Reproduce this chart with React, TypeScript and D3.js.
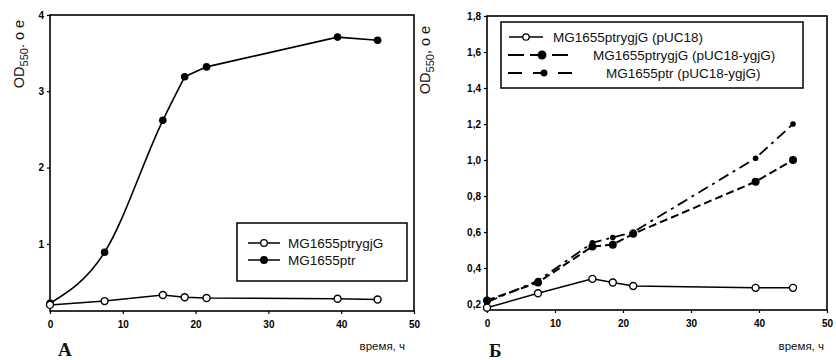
import React, { useEffect, useRef } from 'react';
import * as d3 from 'd3';

// время, ч
const timeA = [0, 7.5, 15.5, 18.5, 21.5, 39.5, 45];
const ptrygjG = [0.2, 0.25, 0.33, 0.3, 0.29, 0.28, 0.27];
const ptr = [0.22, 0.89, 2.62, 3.19, 3.32, 3.71, 3.67];

const timeB = [0, 7.5, 15.5, 18.5, 21.5, 39.5, 45];
const ptrygjG_pUC18 = [0.18, 0.26, 0.34, 0.32, 0.3, 0.29, 0.29];
const ptrygjG_ygjG = [0.22, 0.32, 0.52, 0.53, 0.59, 0.88, 1.0];
const ptr_ygjG = [0.21, 0.33, 0.54, 0.57, 0.6, 1.01, 1.2];

const xTicks = [0, 10, 20, 30, 40, 50];
const yTicksA = [1, 2, 3, 4];
const yTicksB = [0.2, 0.4, 0.6, 0.8, 1.0, 1.2, 1.4, 1.6, 1.8];

const SANS = 'Liberation Sans, Arial, sans-serif';
const SERIF = 'Liberation Serif, Times New Roman, serif';

type Box = { x0: number; x1: number; y0: number; y1: number };

const drawFrame = (
  g: d3.Selection<SVGGElement, unknown, null, undefined>,
  x: d3.ScaleLinear<number, number>,
  y: d3.ScaleLinear<number, number>,
  yTicks: number[],
  yFmt: (v: number) => string,
  box: Box
) => {
  g.append('rect')
    .attr('x', box.x0).attr('y', box.y1)
    .attr('width', box.x1 - box.x0).attr('height', box.y0 - box.y1)
    .attr('fill', 'none').attr('stroke', '#000').attr('stroke-width', 1.6);

  const xa = g.append('g')
    .attr('transform', `translate(0,${box.y0})`)
    .call(d3.axisBottom(x).tickValues(xTicks).tickSize(3).tickFormat(d3.format('d')));
  const ya = g.append('g')
    .attr('transform', `translate(${box.x0},0)`)
    .call(d3.axisLeft(y).tickValues(yTicks).tickSize(3).tickFormat((d) => yFmt(+d)));
  [xa, ya].forEach((a) => {
    a.select('.domain').remove();
    a.selectAll('line').attr('stroke', '#000').attr('stroke-width', 1.2);
    a.selectAll('text')
      .attr('font-family', SANS).attr('font-size', 10).attr('font-weight', 'bold')
      .attr('fill', '#000');
  });
  xa.selectAll('text').attr('dy', '1.1em');
};

const yLabel = (
  g: d3.Selection<SVGGElement, unknown, null, undefined>,
  cx: number, cy: number, tail: string
) => {
  const t = g.append('text')
    .attr('transform', `translate(${cx},${cy}) rotate(-90)`)
    .attr('text-anchor', 'middle')
    .attr('font-family', SANS).attr('font-size', 14.5).attr('fill', '#111');
  t.append('tspan').text('OD');
  t.append('tspan').attr('font-size', 11).attr('dy', 4).text('550');
  t.append('tspan').attr('dy', -4).text(tail);
};

const App = () => {
  const ref = useRef<SVGSVGElement>(null);

  useEffect(() => {
    const svg = d3.select(ref.current);
    svg.selectAll('*').remove();

    // ---------- Panel A ----------
    const bA: Box = { x0: 50, x1: 414, y0: 311, y1: 15 };
    const xA = d3.scaleLinear().domain([0, 50]).range([bA.x0, bA.x1]);
    const yA = d3.scaleLinear().domain([0.12, 4]).range([bA.y0, bA.y1]);
    const gA = svg.append('g');
    drawFrame(gA, xA, yA, yTicksA, (v) => String(v), bA);

    const lineA = (idx: number[], vals: number[], curve: d3.CurveFactory) =>
      d3.line<number>().x((i) => xA(timeA[i])).y((i) => yA(vals[i])).curve(curve)(idx);

    // smooth rise, then straight segments
    gA.append('path').attr('d', lineA([0, 1, 2, 3], ptr, d3.curveMonotoneX))
      .attr('fill', 'none').attr('stroke', '#000').attr('stroke-width', 1.6);
    gA.append('path').attr('d', lineA([3, 4, 5, 6], ptr, d3.curveLinear))
      .attr('fill', 'none').attr('stroke', '#000').attr('stroke-width', 1.6);
    gA.append('path').attr('d', lineA(d3.range(ptrygjG.length), ptrygjG, d3.curveLinear))
      .attr('fill', 'none').attr('stroke', '#000').attr('stroke-width', 1.5);
    gA.selectAll('.dotF').data(ptr).enter().append('circle')
      .attr('cx', (_, i) => xA(timeA[i])).attr('cy', (d) => yA(d)).attr('r', 3.8)
      .attr('fill', '#000');
    gA.selectAll('.dotO').data(ptrygjG).enter().append('circle')
      .attr('cx', (_, i) => xA(timeA[i])).attr('cy', (d) => yA(d)).attr('r', 3.5)
      .attr('fill', '#fff').attr('stroke', '#000').attr('stroke-width', 1.4);

    // legend A
    gA.append('rect').attr('x', 237).attr('y', 223).attr('width', 170).attr('height', 58)
      .attr('fill', '#fff').attr('stroke', '#000').attr('stroke-width', 1.5);
    [
      { label: 'MG1655ptrygjG', open: true, y: 243 },
      { label: 'MG1655ptr', open: false, y: 260 },
    ].forEach((e) => {
      gA.append('line').attr('x1', 248).attr('x2', 280).attr('y1', e.y).attr('y2', e.y)
        .attr('stroke', '#000').attr('stroke-width', 1.5);
      gA.append('circle').attr('cx', 264).attr('cy', e.y).attr('r', 3.3)
        .attr('fill', e.open ? '#fff' : '#000').attr('stroke', '#000').attr('stroke-width', 1.3);
      gA.append('text').attr('x', 288).attr('y', e.y + 4.5).text(e.label)
        .attr('font-family', SANS).attr('font-size', 13.5).attr('fill', '#111');
    });

    yLabel(gA, 24, 54, '. о е');
    gA.append('text').attr('x', 405).attr('y', 350).attr('text-anchor', 'end')
      .attr('font-family', SANS).attr('font-size', 11.5).attr('fill', '#111').text('время, ч');
    gA.append('text').attr('x', 58).attr('y', 356)
      .attr('font-family', SERIF).attr('font-size', 19).attr('font-weight', 'bold')
      .attr('fill', '#111').text('А');

    // ---------- Panel Б ----------
    const bB: Box = { x0: 487, x1: 827, y0: 310, y1: 16 };
    const xB = d3.scaleLinear().domain([0, 50]).range([bB.x0, bB.x1]);
    const yB = d3.scaleLinear().domain([0.167, 1.8]).range([bB.y0, bB.y1]);
    const gB = svg.append('g');
    drawFrame(gB, xB, yB, yTicksB, (v) => d3.format('.1f')(v).replace('.', ','), bB);

    const lineB = d3.line<number>().x((_, i) => xB(timeB[i])).y((d) => yB(d));

    gB.append('path').attr('d', lineB(ptr_ygjG))
      .attr('fill', 'none').attr('stroke', '#000').attr('stroke-width', 1.8)
      .attr('stroke-dasharray', '11,5,3,5');
    gB.append('path').attr('d', lineB(ptrygjG_ygjG))
      .attr('fill', 'none').attr('stroke', '#000').attr('stroke-width', 2)
      .attr('stroke-dasharray', '8,4');
    gB.append('path').attr('d', lineB(ptrygjG_pUC18))
      .attr('fill', 'none').attr('stroke', '#000').attr('stroke-width', 1.5);

    gB.selectAll('.d3').data(ptr_ygjG).enter().append('circle')
      .attr('cx', (_, i) => xB(timeB[i])).attr('cy', (d) => yB(d)).attr('r', 2.8)
      .attr('fill', '#000');
    gB.selectAll('.d2').data(ptrygjG_ygjG).enter().append('circle')
      .attr('cx', (_, i) => xB(timeB[i])).attr('cy', (d) => yB(d)).attr('r', 4)
      .attr('fill', '#000');
    gB.selectAll('.d1').data(ptrygjG_pUC18).enter().append('circle')
      .attr('cx', (_, i) => xB(timeB[i])).attr('cy', (d) => yB(d)).attr('r', 3.5)
      .attr('fill', '#fff').attr('stroke', '#000').attr('stroke-width', 1.4);

    // legend Б
    gB.append('rect').attr('x', 501).attr('y', 22).attr('width', 302).attr('height', 66)
      .attr('fill', '#fff').attr('stroke', '#000').attr('stroke-width', 1.5);
    const legB = [
      { label: 'MG1655ptrygjG (pUC18)', y: 37, x1: 509, x2: 543, cx: 526, tx: 553, dash: null as string | null, r: 3.2, open: true, w: 1.5 },
      { label: 'MG1655ptrygjG (pUC18-ygjG)', y: 55, x1: 508, x2: 572, cx: 542, tx: 593, dash: '16,6', r: 3.8, open: false, w: 2.2 },
      { label: 'MG1655ptr (pUC18-ygjG)', y: 73, x1: 508, x2: 574, cx: 544, tx: 606, dash: '14,11', r: 2.8, open: false, w: 1.8 },
    ];
    legB.forEach((e) => {
      gB.append('line').attr('x1', e.x1).attr('x2', e.x2).attr('y1', e.y).attr('y2', e.y)
        .attr('stroke', '#000').attr('stroke-width', e.w)
        .attr('stroke-dasharray', e.dash);
      gB.append('circle').attr('cx', e.cx).attr('cy', e.y).attr('r', e.r)
        .attr('fill', e.open ? '#fff' : '#000').attr('stroke', '#000').attr('stroke-width', 1.3);
      gB.append('text').attr('x', e.tx).attr('y', e.y + 4.5).text(e.label)
        .attr('font-family', SANS).attr('font-size', 13.5).attr('fill', '#111');
    });

    yLabel(gB, 430, 60, ', о е');
    gB.append('text').attr('x', 824).attr('y', 350).attr('text-anchor', 'end')
      .attr('font-family', SANS).attr('font-size', 11.5).attr('fill', '#111').text('время, ч');
    gB.append('text').attr('x', 489).attr('y', 357)
      .attr('font-family', SERIF).attr('font-size', 19).attr('font-weight', 'bold')
      .attr('fill', '#111').text('Б');
  }, []);

  return (
    <svg
      ref={ref}
      width={836}
      height={360}
      style={{ position: 'absolute', left: 0, top: 0, background: '#fff' }}
    />
  );
};

export default App;
